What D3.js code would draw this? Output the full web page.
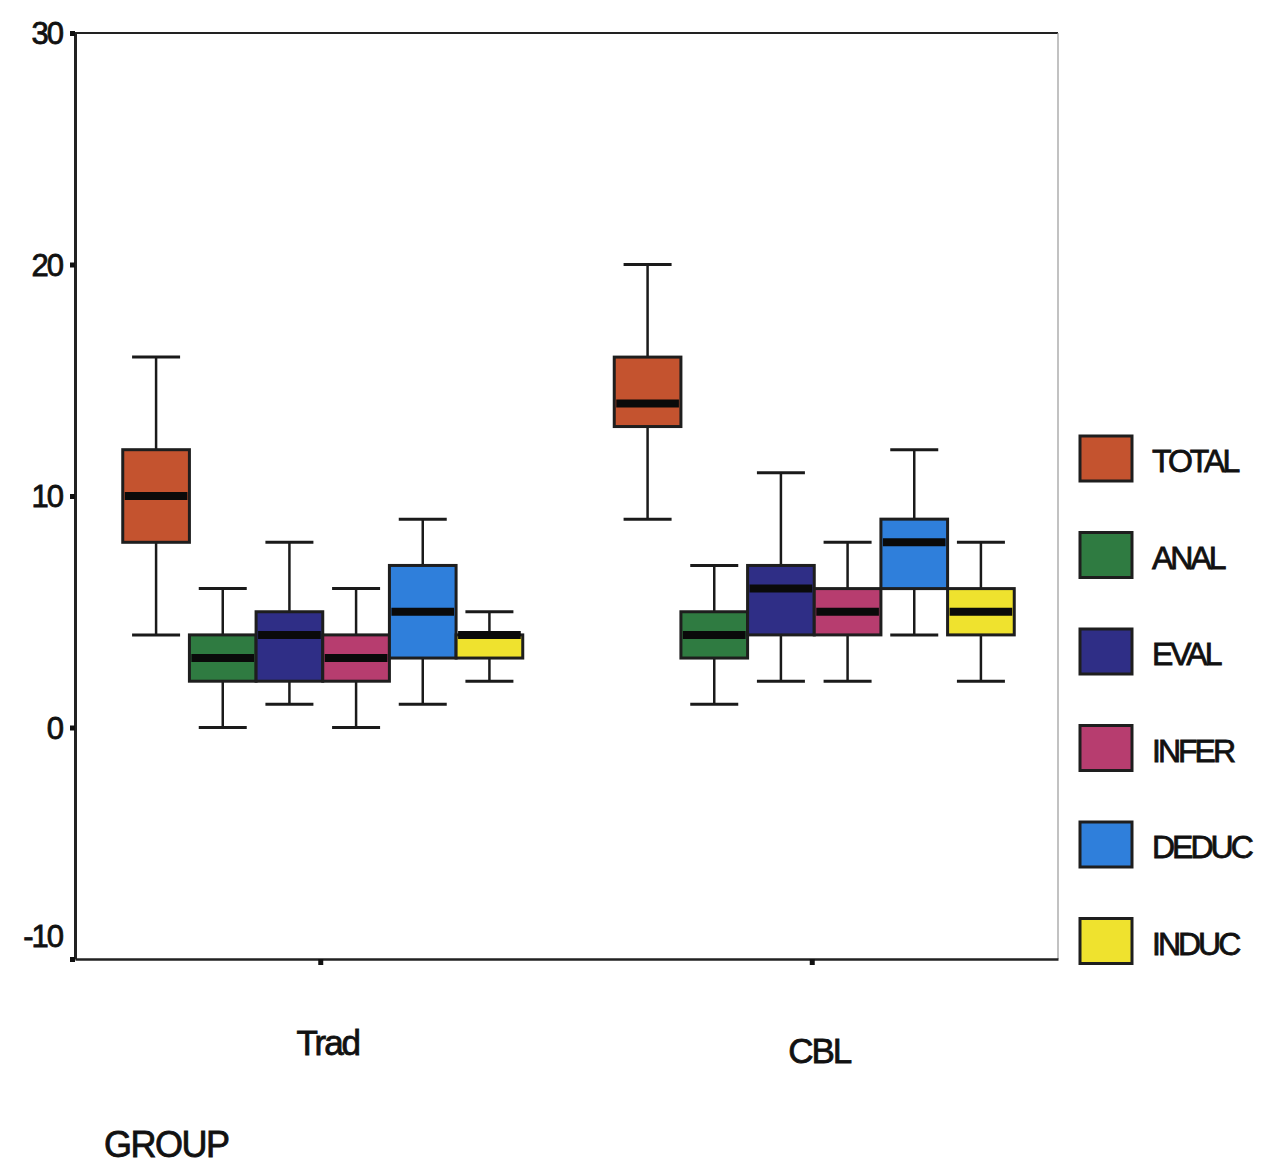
<!DOCTYPE html>
<html>
<head>
<meta charset="utf-8">
<script src="https://cdnjs.cloudflare.com/ajax/libs/d3/7.8.5/d3.min.js"></script>
<style>
  body { margin: 0; background: #fff; }
  text { font-family: "Liberation Sans", Arial, sans-serif; fill: #111; stroke: #111; stroke-width: 0.8px; }
</style>
</head>
<body>
<div id="canvas"></div>
<script>
var width = 1262;
var height = 1166;

// data: [min, q1, median, q3, max]
var groups = ["Trad", "CBL"];
var series = ["TOTAL", "ANAL", "EVAL", "INFER", "DEDUC", "INDUC"];
var colors = ["#c4532f", "#2f7b41", "#2f2e86", "#b73d6f", "#2f7fdb", "#efe22e"];
var tradStats = [
  [4, 8, 10, 12, 16],
  [0, 2, 3, 4, 6],
  [1, 2, 4, 5, 8],
  [0, 2, 3, 4, 6],
  [1, 3, 5, 7, 9],
  [2, 3, 4, 4, 5]
];
var cblStats = [
  [9, 13, 14, 16, 20],
  [1, 3, 4, 5, 7],
  [2, 4, 6, 7, 11],
  [2, 4, 5, 6, 8],
  [4, 6, 8, 9, 12],
  [2, 4, 5, 6, 8]
];
var yTicks = [-10, 0, 10, 20, 30];

var svg = d3.select("#canvas").append("svg")
  .attr("width", width)
  .attr("height", height);

var plotLeft = 75, plotRight = 1058, plotTop = 33, plotBottom = 959;

var y = d3.scaleLinear().domain([-10, 30]).range([plotBottom, plotTop]);
var x0 = d3.scaleBand().domain(groups).range([plotLeft, plotRight]);
var x1 = d3.scaleBand().domain(series).range([-198, 202]);

// frame
svg.append("line").attr("x1", plotLeft).attr("x2", plotRight).attr("y1", plotTop).attr("y2", plotTop)
  .attr("stroke", "#222").attr("stroke-width", 2);
svg.append("line").attr("x1", plotRight).attr("x2", plotRight).attr("y1", plotTop).attr("y2", plotBottom)
  .attr("stroke", "#999").attr("stroke-width", 1.2);

// y axis
var yAxis = svg.append("g")
  .attr("transform", "translate(" + plotLeft + ",0)")
  .call(d3.axisLeft(y).tickValues(yTicks).tickSize(5).tickSizeOuter(0).tickPadding(8)
    .tickFormat(function(d) { return String(d); }));
yAxis.select(".domain").attr("stroke", "#222").attr("stroke-width", 3);
yAxis.selectAll(".tick line").attr("stroke", "#111").attr("stroke-width", 5);
yAxis.selectAll(".tick text")
  .style("font-size", "31px")
  .style("letter-spacing", "-2px")
  .attr("dy", function(d) { return d === -10 ? "-0.4em" : "0.35em"; });

// x axis
var xAxis = svg.append("g")
  .attr("transform", "translate(0," + plotBottom + ")")
  .call(d3.axisBottom(x0).tickSize(6).tickSizeOuter(0).tickFormat(""));
xAxis.select(".domain").attr("stroke", "#222").attr("stroke-width", 2.5);
xAxis.selectAll(".tick line").attr("stroke", "#111").attr("stroke-width", 5);

svg.selectAll(".glabel")
  .data(groups)
  .enter().append("text")
  .attr("class", "glabel")
  .attr("x", function(d) { return x0(d) + x0.bandwidth() / 2 + 7; })
  .attr("y", function(d, i) { return i === 0 ? 1055 : 1063; })
  .attr("text-anchor", "middle")
  .style("font-size", "35px")
  .style("letter-spacing", "-2px")
  .text(function(d) { return d; });

svg.append("text")
  .attr("x", 104).attr("y", 1157)
  .style("font-size", "36px")
  .style("letter-spacing", "-1.5px")
  .text("GROUP");

// boxes
var allStats = [tradStats, cblStats];
var capHalf = 24;

groups.forEach(function(g, gi) {
  var cx = x0(g) + x0.bandwidth() / 2;
  var gEl = svg.append("g").attr("transform", "translate(" + cx + ",0)");
  var box = gEl.selectAll(".box")
    .data(allStats[gi])
    .enter().append("g")
    .attr("class", "box");

  box.each(function(s, i) {
    var el = d3.select(this);
    var mid = x1(series[i]) + x1.bandwidth() / 2;
    // whiskers
    el.append("line").attr("x1", mid).attr("x2", mid).attr("y1", y(s[4])).attr("y2", y(s[3]))
      .attr("stroke", "#1a1a1a").attr("stroke-width", 2.5);
    el.append("line").attr("x1", mid).attr("x2", mid).attr("y1", y(s[1])).attr("y2", y(s[0]))
      .attr("stroke", "#1a1a1a").attr("stroke-width", 2.5);
    el.append("line").attr("x1", mid - capHalf).attr("x2", mid + capHalf).attr("y1", y(s[4])).attr("y2", y(s[4]))
      .attr("stroke", "#1a1a1a").attr("stroke-width", 3);
    el.append("line").attr("x1", mid - capHalf).attr("x2", mid + capHalf).attr("y1", y(s[0])).attr("y2", y(s[0]))
      .attr("stroke", "#1a1a1a").attr("stroke-width", 3);
  });

  box.each(function(s, i) {
    var el = d3.select(this);
    var bx = x1(series[i]);
    el.append("rect")
      .attr("x", bx).attr("width", x1.bandwidth())
      .attr("y", y(s[3])).attr("height", y(s[1]) - y(s[3]))
      .attr("fill", colors[i])
      .attr("stroke", "#1e1e1e").attr("stroke-width", 3);
    el.append("line")
      .attr("x1", bx + 2).attr("x2", bx + x1.bandwidth() - 2)
      .attr("y1", y(s[2])).attr("y2", y(s[2]))
      .attr("stroke", "#0a0a0a").attr("stroke-width", 8);
  });
});

// legend
var legend = svg.selectAll(".legend")
  .data(series)
  .enter().append("g")
  .attr("class", "legend")
  .attr("transform", function(d, i) { return "translate(1080," + (436 + i * 96.5) + ")"; });

legend.append("rect")
  .attr("width", 52).attr("height", 45)
  .attr("fill", function(d, i) { return colors[i]; })
  .attr("stroke", "#1e1e1e").attr("stroke-width", 3);

legend.append("text")
  .attr("x", 72).attr("y", 36)
  .style("font-size", "32px")
  .style("letter-spacing", "-3px")
  .text(function(d) { return d; });
</script>
</body>
</html>
